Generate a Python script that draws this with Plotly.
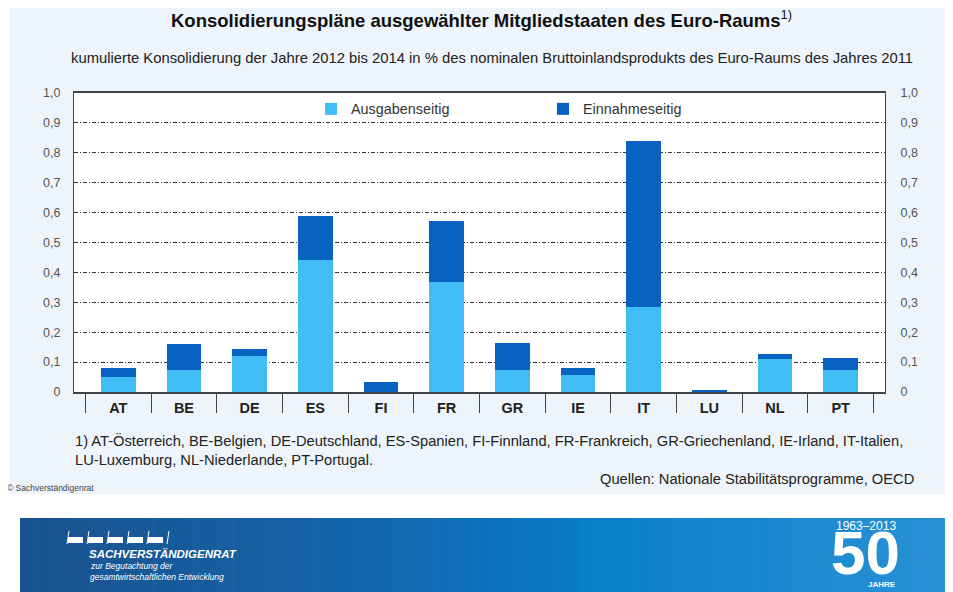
import plotly.graph_objects as go

# ---- data ----
countries = ["AT", "BE", "DE", "ES", "FI", "FR", "GR", "IE", "IT", "LU", "NL", "PT"]
ausgaben = [0.05, 0.073, 0.12, 0.44, 0.0, 0.369, 0.075, 0.056, 0.284, 0.0, 0.11, 0.075]
einnahmen = [0.031, 0.087, 0.025, 0.15, 0.032, 0.204, 0.088, 0.023, 0.556, 0.006, 0.018, 0.039]
y_ticks = [0, 0.1, 0.2, 0.3, 0.4, 0.5, 0.6, 0.7, 0.8, 0.9, 1.0]
y_ticktext = ["0", "0,1", "0,2", "0,3", "0,4", "0,5", "0,6", "0,7", "0,8", "0,9", "1,0"]

C_LIGHT = "#41bdf5"
C_DARK = "#0762c2"
FONT = "Liberation Sans, Arial, sans-serif"

OFF = 8  # default page body margin
FW, FH = 953 - OFF, 592 - OFF
# plot area in reference pixels: x 74..885, y 93..392
L, R, T, B = 74 - OFF, 953 - 885, 93 - OFF, 592 - 392
PW, PH = FW - L - R, FH - T - B


def px_x(px):
    return (px - OFF - L) / PW


def px_y(py):
    return 1 - (py - OFF - T) / PH


fig = go.Figure()
fig.add_trace(go.Bar(x=countries, y=ausgaben, name="Ausgabenseitig",
                     marker=dict(color=C_LIGHT, line=dict(width=0))))
fig.add_trace(go.Bar(x=countries, y=einnahmen, name="Einnahmeseitig",
                     marker=dict(color=C_DARK, line=dict(width=0))))
# invisible trace for right axis and tick separators
fig.add_trace(go.Scatter(x=countries, y=[None] * len(countries), yaxis="y2", xaxis="x2",
                         showlegend=False, hoverinfo="skip", mode="markers"))

shapes = []
# light panel background
shapes.append(dict(type="rect", xref="paper", yref="paper", layer="below",
                   x0=px_x(10), x1=px_x(945), y0=px_y(0), y1=px_y(494),
                   fillcolor="#edf5fa", line=dict(width=0)))
# white plot area
shapes.append(dict(type="rect", xref="paper", yref="paper", layer="below",
                   x0=0, x1=1, y0=0, y1=1, fillcolor="white", line=dict(width=0)))
# banner gradient (piecewise)
stops = [(20, (26, 82, 142)), (300, (22, 98, 166)), (480, (14, 112, 186)),
         (600, (10, 128, 200)), (953, (42, 146, 214))]


def grad(px):
    for (a, ca), (b, cb) in zip(stops[:-1], stops[1:]):
        if a <= px <= b:
            f = (px - a) / (b - a)
            return tuple(int(ca[k] + (cb[k] - ca[k]) * f) for k in range(3))
    return stops[-1][1]


n = 70
x_start, x_end = 20, 953
for i in range(n):
    a = x_start + (x_end - x_start) * i / n
    b = x_start + (x_end - x_start) * (i + 1) / n + 0.6
    col = grad((a + b) / 2)
    shapes.append(dict(type="rect", xref="paper", yref="paper", layer="above",
                       x0=px_x(a), x1=px_x(b), y0=px_y(592), y1=px_y(518),
                       fillcolor="rgb(%d,%d,%d)" % col, line=dict(width=0)))
# logo dashes
for i in range(5):
    xa = 68 + i * 20
    shapes.append(dict(type="rect", xref="paper", yref="paper", layer="above",
                       x0=px_x(xa), x1=px_x(xa + 15), y0=px_y(543), y1=px_y(537),
                       fillcolor="white", line=dict(width=0)))
    shapes.append(dict(type="line", xref="paper", yref="paper", layer="above",
                       x0=px_x(xa - 1), x1=px_x(xa + 1), y0=px_y(544), y1=px_y(531),
                       line=dict(color="white", width=1)))
shapes.append(dict(type="line", xref="paper", yref="paper", layer="above",
                   x0=px_x(167), x1=px_x(169), y0=px_y(544), y1=px_y(531),
                   line=dict(color="white", width=1)))

annotations = [
    dict(text="<b>Konsolidierungspläne ausgewählter Mitgliedstaaten des Euro-Raums</b><sup>1)</sup>",
         x=px_x(482), y=px_y(19), xanchor="center", yanchor="middle",
         font=dict(size=18.5, color="#111", family=FONT)),
    dict(text="kumulierte Konsolidierung der Jahre 2012 bis 2014 in % des nominalen Bruttoinlandsprodukts des Euro-Raums des Jahres 2011",
         x=px_x(492), y=px_y(58), xanchor="center", yanchor="middle",
         font=dict(size=14.8, color="#222", family=FONT)),
    dict(text="1) AT-Österreich, BE-Belgien, DE-Deutschland, ES-Spanien, FI-Finnland, FR-Frankreich, GR-Griechenland, IE-Irland, IT-Italien,<br>LU-Luxemburg, NL-Niederlande, PT-Portugal.",
         x=px_x(73), y=px_y(430), xanchor="left", yanchor="top", align="left",
         font=dict(size=14.7, color="#222", family=FONT)),
    dict(text="Quellen: Nationale Stabilitätsprogramme, OECD",
         x=px_x(916), y=px_y(479), xanchor="right", yanchor="middle",
         font=dict(size=14.7, color="#222", family=FONT)),
    dict(text="© Sachverständigenrat",
         x=px_x(5), y=px_y(488), xanchor="left", yanchor="middle",
         font=dict(size=8.5, color="#444", family=FONT)),
    dict(text="<b><i>SACHVERSTÄNDIGENRAT</i></b>",
         x=px_x(87), y=px_y(554), xanchor="left", yanchor="middle",
         font=dict(size=11.5, color="white", family=FONT)),
    dict(text="<i>zur Begutachtung der</i>",
         x=px_x(88), y=px_y(566), xanchor="left", yanchor="middle",
         font=dict(size=8.5, color="white", family=FONT)),
    dict(text="<i>gesamtwirtschaftlichen Entwicklung</i>",
         x=px_x(88), y=px_y(577), xanchor="left", yanchor="middle",
         font=dict(size=8.5, color="white", family=FONT)),
    dict(text="1963–2013",
         x=px_x(866), y=px_y(526), xanchor="center", yanchor="middle",
         font=dict(size=12, color="white", family=FONT)),
    dict(text="<b>50</b>",
         x=px_x(865), y=px_y(552), xanchor="center", yanchor="middle",
         font=dict(size=62, color="white", family=FONT)),
    dict(text="<b>JAHRE</b>",
         x=px_x(882), y=px_y(584), xanchor="center", yanchor="middle",
         font=dict(size=8, color="white", family=FONT)),
]

axis_font = dict(size=12.5, color="#555", family=FONT)
fig.update_layout(
    width=FW, height=FH,
    margin=dict(l=L, r=R, t=T, b=B),
    paper_bgcolor="white", plot_bgcolor="white",
    barmode="stack", bargap=0.47,
    font=dict(family=FONT),
    showlegend=True,
    legend=dict(orientation="h", x=px_x(311), y=px_y(93), xanchor="left", yanchor="top",
                bgcolor="rgba(0,0,0,0)", entrywidth=187, entrywidthmode="pixels",
                font=dict(size=14.4, color="#333", family=FONT), traceorder="normal",
                itemclick=False, itemdoubleclick=False),
    xaxis=dict(type="category", categoryorder="array", categoryarray=countries,
               showline=True, linecolor="#444", linewidth=1.5, mirror=True,
               ticks="", showgrid=False,
               tickfont=dict(size=14.5, color="#222", family=FONT),
               tickprefix="<b>", ticksuffix="</b>", ticklabelstandoff=2),
    xaxis2=dict(type="category", categoryorder="array", categoryarray=countries,
                overlaying="x", side="bottom", anchor="y", matches="x",
                tickson="boundaries", ticks="outside", ticklen=20, tickwidth=1,
                tickcolor="#444", showticklabels=False, showgrid=False, showline=False),
    yaxis=dict(range=[0, 1.0], tickvals=y_ticks, ticktext=y_ticktext,
               showline=True, linecolor="#444", linewidth=1,
               showgrid=True, gridcolor="#333", gridwidth=1, griddash="4px,2px,1px,2px",
               ticks="", ticklabelstandoff=10, tickfont=axis_font, zeroline=False),
    yaxis2=dict(range=[0, 1.0], tickvals=y_ticks, ticktext=y_ticktext,
                overlaying="y", side="right", anchor="x", matches="y",
                showline=True, linecolor="#444", linewidth=1, showgrid=False,
                ticks="", ticklabelstandoff=12, tickfont=axis_font, zeroline=False),
    shapes=shapes,
    annotations=[dict(a, xref="paper", yref="paper", showarrow=False) for a in annotations],
    hovermode=False,
)

fig.write_html("out.html", config=dict(displayModeBar=False))
